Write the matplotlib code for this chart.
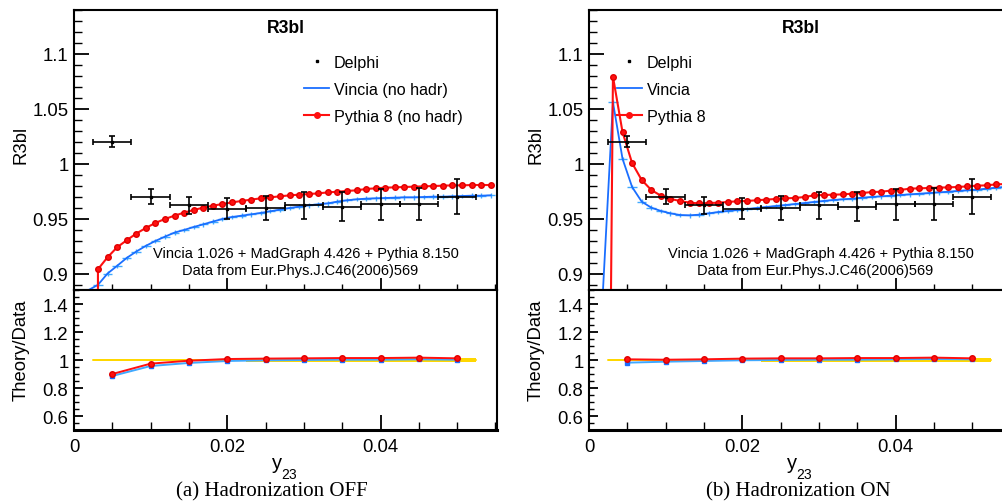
import matplotlib
matplotlib.use("Agg")
import matplotlib.pyplot as plt
from matplotlib.lines import Line2D
from matplotlib.ticker import MultipleLocator
import numpy as np

plt.rcParams["font.family"] = ["Liberation Sans", "DejaVu Sans"]

# Delphi data (same in both panels)
delphi_x = [0.005, 0.010, 0.015, 0.020, 0.025, 0.030, 0.035, 0.040, 0.045, 0.050]
delphi_y = [1.020, 0.970, 0.962, 0.959, 0.960, 0.962, 0.961, 0.963, 0.963, 0.970]
delphi_yerr = [0.005, 0.0067, 0.008, 0.0094, 0.011, 0.012, 0.013, 0.014, 0.0145, 0.016]
delphi_xerr = 0.0025

# MC bin centres
mc_x = [0.003125, 0.004375, 0.005625, 0.006875, 0.008125, 0.009375, 0.010625,
        0.011875, 0.013125, 0.014375, 0.015625, 0.016875, 0.018125, 0.019375,
        0.020625, 0.021875, 0.023125, 0.024375, 0.025625, 0.026875, 0.028125,
        0.029375, 0.030625, 0.031875, 0.033125, 0.034375, 0.035625, 0.036875,
        0.038125, 0.039375, 0.040625, 0.041875, 0.043125, 0.044375, 0.045625,
        0.046875, 0.048125, 0.049375, 0.050625, 0.051875, 0.053125, 0.054375]

# (a) hadronization OFF
vincia_off = [0.8897, 0.900, 0.907, 0.9142, 0.920, 0.9252, 0.9297, 0.9336, 0.9373, 0.9397,
              0.9424, 0.9448, 0.9473, 0.9497, 0.9515, 0.9527, 0.9539, 0.9552, 0.9567, 0.9582,
              0.9597, 0.9609, 0.9621, 0.9630, 0.9639, 0.9655, 0.9667, 0.9676, 0.9682, 0.9685,
              0.9688, 0.9691, 0.9694, 0.9694, 0.9697, 0.9700, 0.9700, 0.9703, 0.9706, 0.9709,
              0.9709, 0.9712]
pythia_off = [0.9039, 0.9148, 0.9239, 0.9303, 0.9364, 0.9415, 0.9461, 0.9497, 0.9527, 0.9555,
              0.9579, 0.9600, 0.9618, 0.9633, 0.9648, 0.9661, 0.9673, 0.9685, 0.9694, 0.9703,
              0.9712, 0.9718, 0.9724, 0.9730, 0.9739, 0.9745, 0.9752, 0.9758, 0.9770, 0.9776,
              0.9782, 0.9785, 0.9788, 0.9791, 0.9794, 0.9797, 0.9800, 0.9803, 0.9803, 0.9806,
              0.9806, 0.9806]
vincia_off_lead = (0.0015, 0.8834)
pythia_off_lead = (0.0031, 0.6)
ratio_vincia_off = [0.886, 0.957, 0.979, 0.993, 0.998, 1.000, 1.002, 1.002, 1.005, 1.002]
ratio_pythia_off = [0.900, 0.974, 0.995, 1.007, 1.010, 1.012, 1.014, 1.014, 1.017, 1.012]

# (b) hadronization ON
vincia_on = [1.056, 1.0045, 0.9788, 0.9655, 0.960, 0.957, 0.9548, 0.9533, 0.953, 0.9536,
             0.9548, 0.956, 0.957, 0.9579, 0.9588, 0.9597, 0.9606, 0.9615, 0.9624, 0.9633,
             0.9642, 0.9652, 0.9661, 0.967, 0.9676, 0.9682, 0.9691, 0.9697, 0.9703, 0.9709,
             0.9715, 0.9721, 0.9727, 0.9733, 0.9739, 0.9745, 0.9752, 0.9758, 0.9764, 0.9773,
             0.9782, 0.979]
pythia_on = [1.0794, 1.0288, 1.0006, 0.9852, 0.9761, 0.9709, 0.9679, 0.9661, 0.9645, 0.9639,
             0.9642, 0.9645, 0.9652, 0.9658, 0.9661, 0.9667, 0.9673, 0.9679, 0.9685, 0.9688,
             0.9697, 0.9712, 0.9715, 0.9718, 0.9721, 0.9727, 0.9733, 0.9742, 0.9745, 0.9755,
             0.9761, 0.9773, 0.9776, 0.9779, 0.9782, 0.9785, 0.9788, 0.9794, 0.9800, 0.9803,
             0.9812, 0.9815]
vincia_on_lead = (0.00175, 0.875)
pythia_on_lead = (0.0025, 0.6)
ratio_vincia_on = [0.981, 0.988, 0.993, 0.998, 1.000, 1.002, 1.002, 1.005, 1.007, 1.005]
ratio_pythia_on = [1.005, 1.002, 1.005, 1.010, 1.012, 1.012, 1.014, 1.014, 1.017, 1.012]

BLUE = "#1a6eff"
LBLUE = "#3fa9ff"
RED = "#ff1010"
YELLOW = "#ffd700"

W, H = 1003, 502
fig = plt.figure(figsize=(W / 100, H / 100), dpi=100)


def px_axes(l, t, r, b):
    return fig.add_axes([l / W, 1 - b / H, (r - l) / W, (b - t) / H])


def style(ax, top):
    ax.set_xlim(0, 0.0552)
    ax.xaxis.set_major_locator(MultipleLocator(0.02))
    ax.xaxis.set_minor_locator(MultipleLocator(0.005))
    ax.tick_params(which="both", direction="in", top=False, right=False, labelsize=13.3)
    for s in ax.spines.values():
        s.set_linewidth(1.5)
    if top:
        ax.set_ylim(0.885, 1.14)
        ax.yaxis.set_major_locator(MultipleLocator(0.05))
        ax.yaxis.set_minor_locator(MultipleLocator(0.01))
        ax.tick_params(axis="y", which="major", length=11, width=1.3, pad=4)
        ax.tick_params(axis="y", which="minor", length=6, width=1.0)
        ax.tick_params(axis="x", which="major", length=9, width=1.3, labelbottom=False)
        ax.tick_params(axis="x", which="minor", length=4.5, width=1.0)
        ax.set_yticks([0.9, 0.95, 1.0, 1.05, 1.1])
        ax.set_yticklabels(["0.9", "0.95", "1", "1.05", "1.1"])
    else:
        ax.set_ylim(0.5, 1.5)
        ax.yaxis.set_major_locator(MultipleLocator(0.2))
        ax.yaxis.set_minor_locator(MultipleLocator(0.05))
        ax.tick_params(axis="y", which="major", length=6.5, width=1.3, pad=4)
        ax.tick_params(axis="y", which="minor", length=3.5, width=1.0)
        ax.tick_params(axis="x", which="major", length=11, width=1.3, pad=6)
        ax.tick_params(axis="x", which="minor", length=6, width=1.0)
        ax.set_yticks([0.6, 0.8, 1.0, 1.2, 1.4])
        ax.set_yticklabels(["0.6", "0.8", "1", "1.2", "1.4"])
        ax.set_xticks([0, 0.02, 0.04])
        ax.set_xticklabels(["0", "0.02", "0.04"])
        ax.spines["bottom"].set_linewidth(2.2)


panels = [
    (74, vincia_off, pythia_off, vincia_off_lead, pythia_off_lead,
     ratio_vincia_off, ratio_pythia_off,
     ["Delphi", "Vincia (no hadr)", "Pythia 8 (no hadr)"], 0.544, "(a) Hadronization OFF", 272),
    (589, vincia_on, pythia_on, vincia_on_lead, pythia_on_lead,
     ratio_vincia_on, ratio_pythia_on,
     ["Delphi", "Vincia", "Pythia 8"], 0.0662, "(b) Hadronization ON", 798),
]

for (left, vin, pyt, vlead, plead, rvin, rpyt, labels, legx, caption, capx) in panels:
    ax = px_axes(left, 11, left + 423, 291)
    axr = px_axes(left, 291, left + 423, 431)
    style(ax, True)
    style(axr, False)

    # main panel
    ax.errorbar(mc_x, vin, xerr=0.000625, yerr=0.002, fmt="none", ecolor=LBLUE,
                elinewidth=1.0, zorder=2)
    ax.plot([vlead[0]] + mc_x, [vlead[1]] + vin, color=BLUE, lw=1.3, zorder=3)
    ax.plot([plead[0]] + mc_x, [plead[1]] + pyt, color=RED, lw=1.5, marker="o",
            markersize=4, markevery=list(range(1, len(mc_x) + 1)), mfc=RED,
            mec="#e00000", zorder=4)
    ax.errorbar(delphi_x, delphi_y, xerr=delphi_xerr, yerr=delphi_yerr, fmt="s",
                color="black", markersize=2, elinewidth=1.2, capsize=2.5,
                capthick=1.2, zorder=5)

    ax.text(0.5, 0.939, "R3bl", transform=ax.transAxes, ha="center", va="center",
            fontsize=12.7, fontweight="bold")
    ax.text(0.548, 0.132, "Vincia 1.026 + MadGraph 4.426 + Pythia 8.150",
            transform=ax.transAxes, ha="center", va="center", fontsize=10.5)
    ax.text(0.534, 0.072, "Data from Eur.Phys.J.C46(2006)569",
            transform=ax.transAxes, ha="center", va="center", fontsize=10.5)

    handles = [
        Line2D([], [], ls="none", marker="s", markersize=2, color="black"),
        Line2D([], [], color=BLUE, lw=1.3),
        Line2D([], [], color=RED, lw=1.5, marker="o", markersize=4),
    ]
    ax.legend(handles, labels, loc="upper left", bbox_to_anchor=(legx, 0.839),
              frameon=False, fontsize=11.6, borderaxespad=0, borderpad=0,
              handlelength=1.55, handletextpad=0.31, labelspacing=0.73)

    ax.set_ylabel("R3bl", fontsize=13.3)
    ax.yaxis.set_label_coords(-0.105, 0.52)

    # ratio panel
    rel = np.array(delphi_yerr) / np.array(delphi_y)
    edges = [x - delphi_xerr for x in delphi_x] + [delphi_x[-1] + delphi_xerr]
    axr.stairs(1 + rel, edges, baseline=1 - rel, fill=True, color=YELLOW,
               lw=0, zorder=2)
    axr.plot([edges[0], edges[-1]], [1, 1], color=YELLOW, lw=1.2, zorder=2)
    axr.plot(delphi_x, rvin, color=LBLUE, lw=1.4, marker="s", markersize=2.5,
             mfc=BLUE, mec=BLUE, zorder=3)
    axr.plot(delphi_x, rpyt, color=RED, lw=1.4, marker="o", markersize=4,
             mfc=RED, mec="#e00000", zorder=4)
    axr.set_ylabel("Theory/Data", fontsize=13.3)
    axr.yaxis.set_label_coords(-0.105, 0.58)

    # x axis title: y with subscript 23
    axr.text(0.481, -0.229, "y", transform=axr.transAxes, ha="center",
             va="center", fontsize=14.5)
    axr.text(0.509, -0.314, "23", transform=axr.transAxes, ha="center",
             va="center", fontsize=10)

    fig.text(capx / W, 1 - 492 / H, caption, ha="center", va="center",
             fontsize=15, family="Liberation Serif")

fig.savefig("out.png", dpi=100)
